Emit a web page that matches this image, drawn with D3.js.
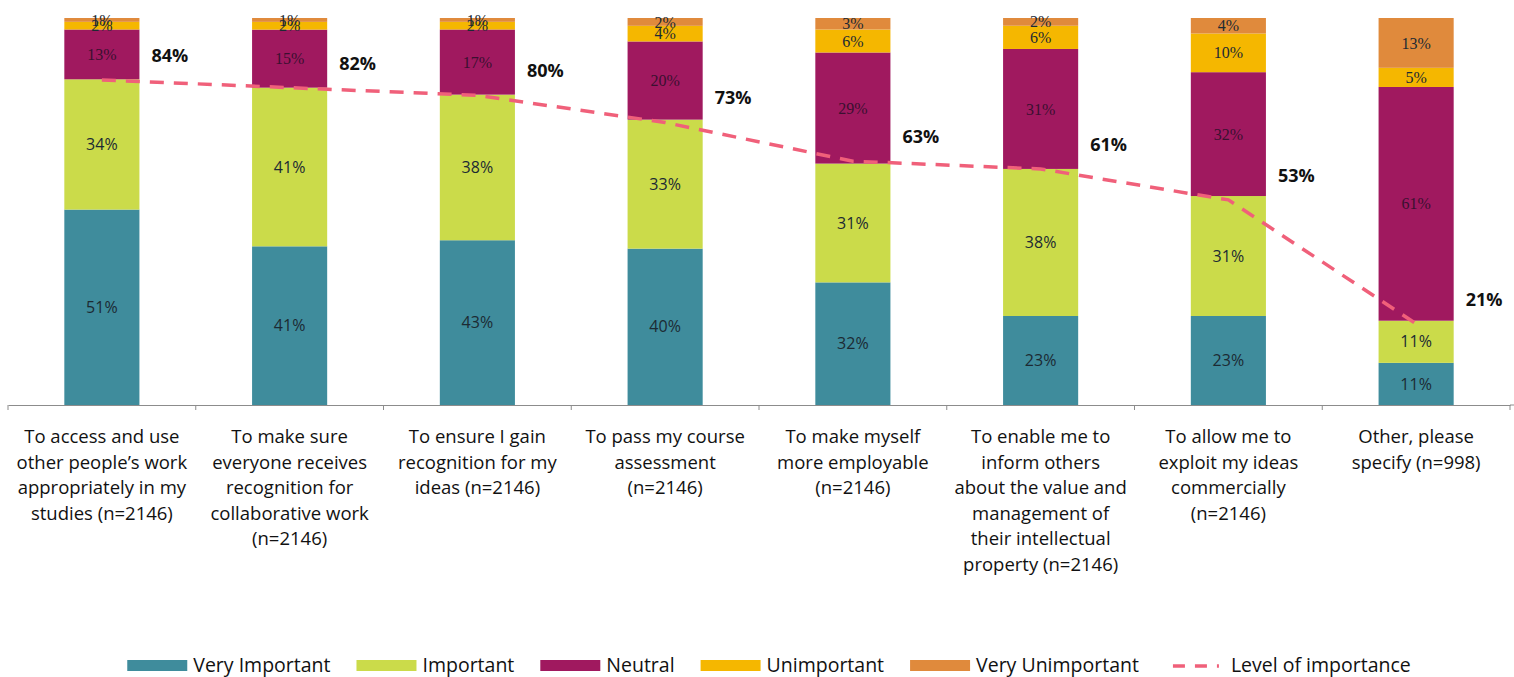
<!DOCTYPE html>
<html>
<head>
<meta charset="utf-8">
<script src="https://cdn.jsdelivr.net/npm/d3@7"></script>
<style>
  body { margin: 0; background: #fff; }
  svg { display: block; }
</style>
</head>
<body>
<svg id="chart" width="1514" height="677"></svg>
<script>
// categories (line breaks as in the original axis labels)
const categories = [
  "To access and use|other people\u2019s work|appropriately in my|studies (n=2146)",
  "To make sure|everyone receives|recognition for|collaborative work|(n=2146)",
  "To ensure I gain|recognition for my|ideas  (n=2146)",
  "To pass my course|assessment|(n=2146)",
  "To make myself|more employable|(n=2146)",
  "To enable me to|inform others|about the value and|management of|their intellectual|property (n=2146)",
  "To allow me to|exploit my ideas|commercially|(n=2146)",
  "Other, please|specify (n=998)"
];

const seriesNames = ["Very Important", "Important", "Neutral", "Unimportant", "Very Unimportant"];

const veryImportant = [51, 41, 43, 40, 32, 23, 23, 11];
const important = [34, 41, 38, 33, 31, 38, 31, 11];
const neutral = [13, 15, 17, 20, 29, 31, 32, 61];
const unimportant = [2, 2, 2, 4, 6, 6, 10, 5];
const veryUnimportant = [1, 1, 1, 2, 3, 2, 4, 13];

const levelOfImportance = [84, 82, 80, 73, 63, 61, 53, 21];

const colors = ["#3f8c9c", "#cbdb4a", "#a0195f", "#f5b700", "#e08a3c"];
const lineColor = "#f0607a";

const svg = d3.select("#chart");
const margin = { top: 18, bottom: 405, left: 8, right: 1510 };

// build rows for the stack
const rows = categories.map((c, i) => ({
  cat: c,
  "Very Important": veryImportant[i],
  "Important": important[i],
  "Neutral": neutral[i],
  "Unimportant": unimportant[i],
  "Very Unimportant": veryUnimportant[i]
}));

const stack = d3.stack().keys(seriesNames).offset(d3.stackOffsetExpand);
const stacked = stack(rows);

const x = d3.scaleBand()
  .domain(categories)
  .range([margin.left, margin.right])
  .paddingInner(0.6)
  .paddingOuter(0.3);

const y = d3.scaleLinear()
  .domain([0, 1])
  .range([margin.bottom, margin.top]);

const yPct = d3.scaleLinear()
  .domain([0, 100])
  .range([margin.bottom, margin.top]);

const color = d3.scaleOrdinal().domain(seriesNames).range(colors);

// bars
const layers = svg.selectAll(".layer")
  .data(stacked)
  .enter()
  .append("g")
  .attr("class", "layer")
  .attr("fill", d => color(d.key));

layers.selectAll("rect")
  .data(d => d)
  .enter()
  .append("rect")
  .attr("x", d => x(d.data.cat))
  .attr("y", d => y(d[1]))
  .attr("width", x.bandwidth())
  .attr("height", d => y(d[0]) - y(d[1]));

// labels inside segments
stacked.forEach((layer, li) => {
  const serif = li >= 2;
  svg.append("g")
    .selectAll("text")
    .data(layer)
    .enter()
    .append("text")
    .attr("x", d => x(d.data.cat) + x.bandwidth() / 2)
    .attr("y", d => (y(d[0]) + y(d[1])) / 2)
    .attr("dy", "0.35em")
    .attr("text-anchor", "middle")
    .style("font-family", serif ? "'Liberation Serif', 'DejaVu Serif', serif" : "'Open Sans', sans-serif")
    .style("font-size", serif ? "16px" : "16px")
    .style("fill", li === 2 ? "#3a1030" : "#1c2a33")
    .text(d => d.data[layer.key] + "%");
});

// x axis
const axis = d3.axisBottom(x).tickSize(0).tickFormat("");
const gx = svg.append("g")
  .attr("transform", `translate(0,${margin.bottom})`)
  .call(axis);
gx.select(".domain").attr("stroke", "#8c8c8c");
svg.append("line")
  .attr("x1", margin.right).attr("x2", 1514)
  .attr("y1", margin.bottom).attr("y2", margin.bottom)
  .attr("stroke", "#8c8c8c");

// tick marks at band boundaries
svg.append("g")
  .selectAll("line")
  .data(d3.range(categories.length + 1))
  .enter()
  .append("line")
  .attr("x1", i => margin.left + i * (margin.right - margin.left) / categories.length)
  .attr("x2", i => margin.left + i * (margin.right - margin.left) / categories.length)
  .attr("y1", margin.bottom)
  .attr("y2", margin.bottom + 5)
  .attr("stroke", "#8c8c8c");

// category labels
const catLabels = svg.append("g")
  .selectAll("text")
  .data(categories)
  .enter()
  .append("text")
  .attr("x", d => x(d) + x.bandwidth() / 2)
  .attr("y", 443)
  .attr("text-anchor", "middle")
  .style("font-family", "'Open Sans', sans-serif")
  .style("font-size", "18.5px")
  .style("fill", "#111");

catLabels.each(function (d) {
  const t = d3.select(this);
  d.split("|").forEach((line, i) => {
    t.append("tspan")
      .attr("x", x(d) + x.bandwidth() / 2)
      .attr("dy", i === 0 ? 0 : 25.5)
      .text(line);
  });
});

// level of importance line
const line = d3.line()
  .x((d, i) => x(categories[i]) + x.bandwidth() / 2)
  .y(d => yPct(d));

svg.append("path")
  .datum(levelOfImportance)
  .attr("d", line)
  .attr("fill", "none")
  .attr("stroke", lineColor)
  .attr("stroke-width", 3.5)
  .attr("stroke-dasharray", "14,10");

svg.append("g")
  .selectAll("text")
  .data(levelOfImportance)
  .enter()
  .append("text")
  .attr("x", (d, i) => x(categories[i]) + x.bandwidth() + 12)
  .attr("y", d => yPct(d) - 18)
  .style("font-family", "'Open Sans', sans-serif")
  .style("font-weight", "bold")
  .style("font-size", "18px")
  .style("fill", "#111")
  .text(d => d + "%");

// legend
const legendItems = seriesNames.map(n => ({ name: n, type: "rect" }))
  .concat([{ name: "Level of importance", type: "line" }]);

const legend = svg.append("g").attr("class", "legend");
let lx = 0;
legendItems.forEach((item, i) => {
  const g = legend.append("g").attr("transform", `translate(${lx},0)`);
  if (item.type === "rect") {
    g.append("rect")
      .attr("x", 0).attr("y", -12)
      .attr("width", 60).attr("height", 11)
      .attr("fill", color(item.name));
  } else {
    g.append("line")
      .attr("x1", 8).attr("x2", 54)
      .attr("y1", -6).attr("y2", -6)
      .attr("stroke", lineColor)
      .attr("stroke-width", 3.5)
      .attr("stroke-dasharray", "12,10");
  }
  const txt = g.append("text")
    .attr("x", 66)
    .attr("y", 0)
    .style("font-family", "'Open Sans', sans-serif")
    .style("font-size", "19.5px")
    .style("fill", "#111")
    .text(item.name);
  lx += 66 + txt.node().getComputedTextLength() + 26;
});
const legendWidth = lx - 26;
legend.attr("transform", `translate(${769 - legendWidth / 2},672)`);
</script>
</body>
</html>
